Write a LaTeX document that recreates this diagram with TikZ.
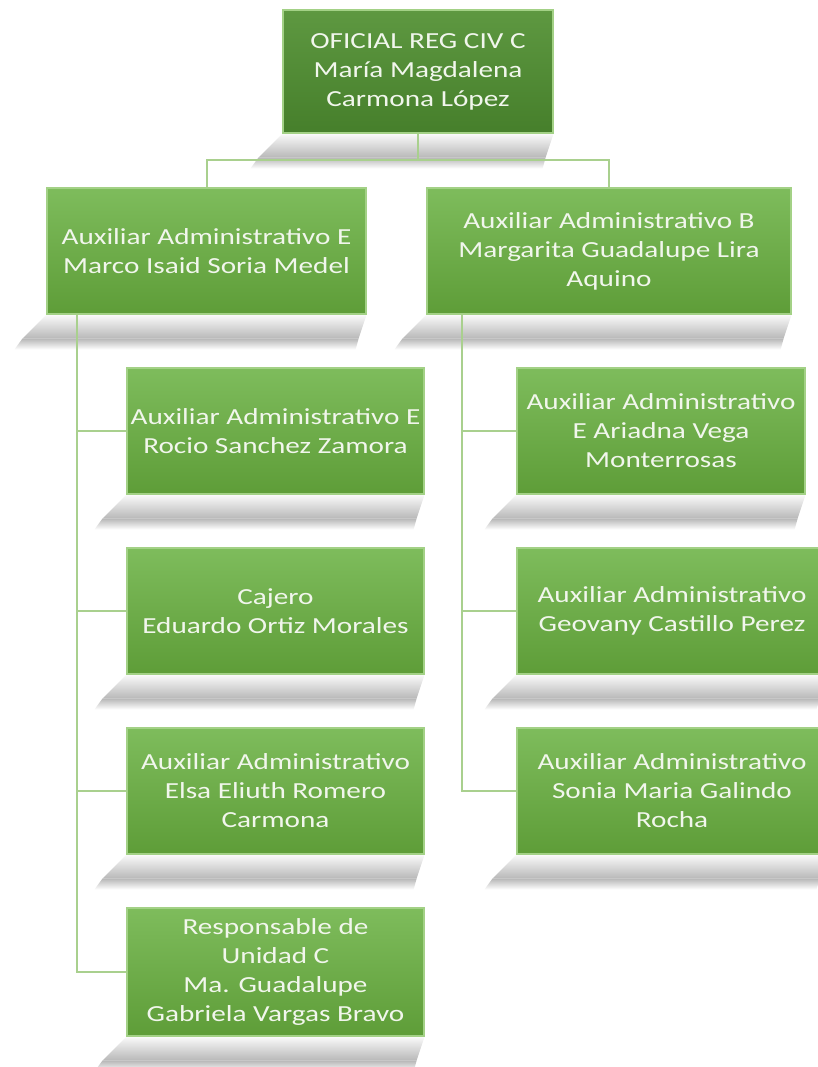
\documentclass[tikz,border=0pt]{standalone}
\usepackage{fontspec}
\setmainfont{Carlito}[FakeStretch=1.27]
\usetikzlibrary{positioning}
\pgfdeclarelayer{back}
\pgfsetlayers{back,main}
\definecolor{leafTop}{HTML}{7EBC5C}
\definecolor{leafBottom}{HTML}{5E9D38}
\definecolor{headTop}{HTML}{5E9841}
\definecolor{headBottom}{HTML}{467F2B}
\definecolor{boxEdge}{HTML}{A3D186}
\definecolor{boxText}{HTML}{F1F6EC}
\definecolor{linkGreen}{HTML}{A9D08E}
\tikzset{
  orgbox/.style={rectangle, draw=boxEdge, line width=1.2pt, top color=leafTop, bottom color=leafBottom,
    text=boxText, align=center, font=\fontsize{23}{29}\selectfont, inner sep=2pt},
  headbox/.style={orgbox, top color=headTop, bottom color=headBottom},
  link/.style={draw=linkGreen, line width=2pt}
}
\newcommand\dropshade[1]{%
  \shade[top color=black!2, bottom color=black!28]
    (#1.south west) -- (#1.south east) -- ([xshift=-8pt,yshift=-24pt]#1.south east)
    -- ([xshift=-24pt,yshift=-24pt]#1.south west) -- cycle;
  \shade[top color=black!28, bottom color=white]
    ([xshift=-24pt,yshift=-24pt]#1.south west) -- ([xshift=-8pt,yshift=-24pt]#1.south east)
    -- ([xshift=-11pt,yshift=-35pt]#1.south east) -- ([xshift=-32pt,yshift=-35pt]#1.south west) -- cycle;}

\begin{document}
\begin{tikzpicture}[x=1pt, y=-1pt]
    \useasboundingbox (0,0) rectangle (817,1067);

    \node[headbox, minimum width=270pt, minimum height=123pt] (oficial) at (418,71.5)
        {OFICIAL REG CIV C\\María Magdalena\\Carmona López};

    \node[orgbox, minimum width=319pt, minimum height=126pt] (auxE) at (206.5,251)
        {Auxiliar Administrativo E\\Marco Isaid Soria Medel};
    \node[orgbox, minimum width=364pt, minimum height=126pt] (auxB) at (609,251)
        {Auxiliar Administrativo B\\Margarita Guadalupe Lira\\Aquino};

    \node[orgbox, minimum width=297pt, minimum height=126pt] (rocio) at (275.5,431)
        {Auxiliar Administrativo E\\Rocio Sanchez Zamora};
    \node[orgbox, minimum width=297pt, minimum height=126pt] (cajero) at (275.5,611)
        {Cajero\\Eduardo Ortiz Morales};
    \node[orgbox, minimum width=297pt, minimum height=126pt] (elsa) at (275.5,791)
        {Auxiliar Administrativo\\Elsa Eliuth Romero\\Carmona};
    \node[orgbox, minimum width=297pt, minimum height=128pt] (resp) at (275.5,972)
        {Responsable de\\Unidad C\\Ma. Guadalupe\\Gabriela Vargas Bravo};

    \node[orgbox, minimum width=288pt, minimum height=126pt] (ariadna) at (661,431)
        {Auxiliar Administrativo\\E Ariadna Vega\\Monterrosas};
    \node[orgbox, minimum width=310pt, minimum height=126pt] (geovany) at (672,611)
        {Auxiliar Administrativo\\Geovany Castillo Perez};
    \node[orgbox, minimum width=310pt, minimum height=126pt] (sonia) at (672,791)
        {Auxiliar Administrativo\\Sonia Maria Galindo\\Rocha};

    \begin{pgfonlayer}{back}
        \foreach \b in {oficial,auxE,auxB,rocio,cajero,elsa,resp,ariadna,geovany,sonia}
            {\dropshade{\b}}
    \end{pgfonlayer}

    \coordinate (fork) at (418,160);
    \coordinate (trunkE) at ([xshift=31pt]auxE.south west);
    \coordinate (trunkB) at ([xshift=36pt]auxB.south west);

    \draw[link] (oficial) -- (fork) -| (auxE);
    \draw[link] (fork) -| (auxB);
    \foreach \c in {rocio,cajero,elsa,resp}
        \draw[link] (trunkE) |- (\c);
    \foreach \c in {ariadna,geovany,sonia}
        \draw[link] (trunkB) |- (\c);
\end{tikzpicture}
\end{document}
